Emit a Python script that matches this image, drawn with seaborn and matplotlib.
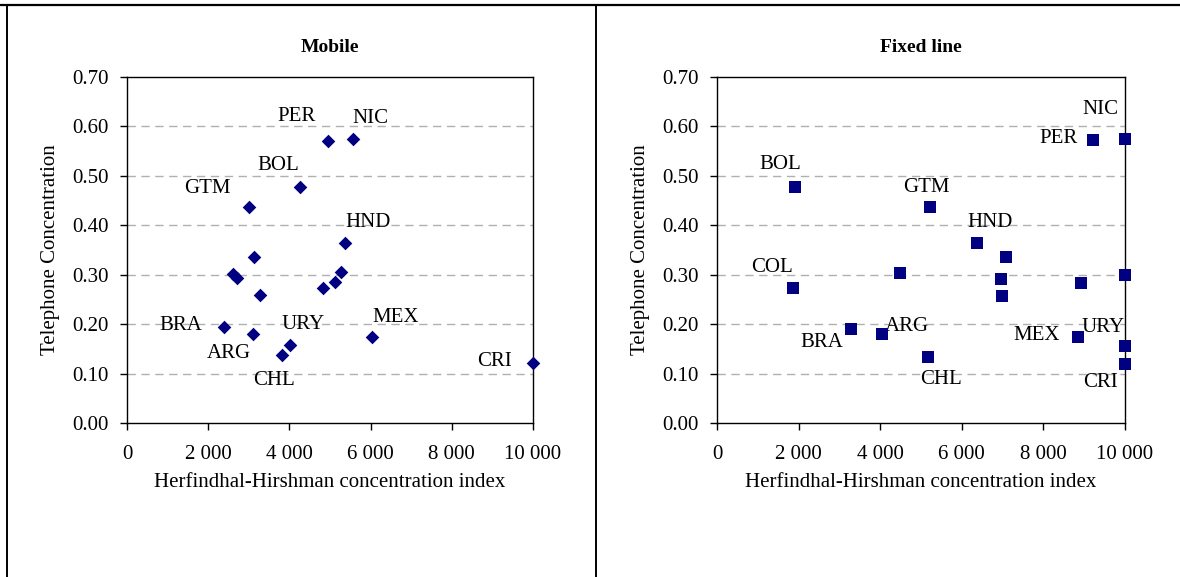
import matplotlib
matplotlib.use("Agg")
import matplotlib.pyplot as plt
import seaborn as sns
import pandas as pd
from matplotlib.lines import Line2D
from matplotlib.ticker import FuncFormatter

# ---------------- data ----------------
mobile_hhi = [4958, 5574, 4269, 3012, 5369, 3136, 2619, 2717, 3276, 4828, 5123, 5263,
              2381, 3104, 4015, 3810, 6026, 10000]
mobile_conc = [0.571, 0.574, 0.477, 0.438, 0.365, 0.336, 0.301, 0.293, 0.258, 0.274, 0.285, 0.305,
               0.194, 0.181, 0.158, 0.137, 0.175, 0.122]
mobile_labels = ["PER", "NIC", "BOL", "GTM", "HND", "", "", "", "", "", "", "",
                 "BRA", "ARG", "URY", "CHL", "MEX", "CRI"]

fixed_hhi = [9216, 10000, 1912, 5221, 6365, 7091, 1870, 4493, 6961, 6985, 8922, 10000,
             3284, 4044, 5164, 8856, 10000, 10000]
fixed_conc = [0.573, 0.575, 0.478, 0.438, 0.365, 0.335, 0.273, 0.303, 0.292, 0.256, 0.283, 0.299,
              0.191, 0.180, 0.134, 0.173, 0.156, 0.119]
fixed_labels = ["PER", "NIC", "BOL", "GTM", "HND", "", "COL", "", "", "", "", "",
                "BRA", "ARG", "CHL", "MEX", "URY", "CRI"]

titles = ["Mobile", "Fixed line"]
x_label = "Herfindhal-Hirshman concentration index"
y_label = "Telephone Concentration"
x_ticks = [0, 2000, 4000, 6000, 8000, 10000]
y_ticks = [0.0, 0.1, 0.2, 0.3, 0.4, 0.5, 0.6, 0.7]

# label offsets (pixels) relative to points
mobile_offsets = {"PER": (-32, 24), "NIC": (17, 21), "BOL": (-22, 22), "GTM": (-42, 18),
                  "HND": (23, 20), "BRA": (-43, 2), "ARG": (-24, -20), "URY": (13, 20),
                  "CHL": (-8, -25), "MEX": (24, 19), "CRI": (-38, 1)}
fixed_offsets = {"PER": (-35, 1), "NIC": (-25, 29), "BOL": (-15, 22), "GTM": (-4, 19),
                 "HND": (13, 20), "COL": (-21, 21), "BRA": (-29, -14), "ARG": (25, 8),
                 "CHL": (13, -23), "MEX": (-42, 2), "URY": (-22, 18), "CRI": (-24, -18)}

sns.set_theme(style="white")
plt.rcParams["font.family"] = ["Liberation Serif", "DejaVu Serif"]

fig = plt.figure(figsize=(11.8, 5.77), dpi=100)
W, H = 1180, 577

def fmt(v, _):
    v = int(round(v))
    return f"{v:,}".replace(",", " ")

navy = "#000080"
FS = 15
panels = [
    (mobile_hhi, mobile_conc, mobile_labels, mobile_offsets, "D", 48, (127, 533)),
    (fixed_hhi, fixed_conc, fixed_labels, fixed_offsets, "s", 70, (717, 1125)),
]
for i, (xs, ys, labs, offs, mk, ms, (xl, xr)) in enumerate(panels):
    ax = fig.add_axes([xl / W, (H - 423) / H, (xr - xl) / W, 346 / H])
    df = pd.DataFrame({"x": xs, "y": ys, "lab": labs})
    sns.scatterplot(data=df, x="x", y="y", marker=mk, s=ms, color=navy,
                    edgecolor=navy, linewidth=0, ax=ax, clip_on=False, zorder=5)
    ax.set_xlim(0, 10000)
    ax.set_ylim(0, 0.7)
    ax.set_xticks(x_ticks)
    ax.set_yticks(y_ticks)
    ax.xaxis.set_major_formatter(FuncFormatter(fmt))
    ax.yaxis.set_major_formatter(FuncFormatter(lambda v, _: f"{v:.2f}"))
    ax.tick_params(axis="both", which="major", direction="out", length=5, width=1,
                   color="black", labelsize=FS, labelcolor="black", bottom=True, left=True)
    ax.tick_params(axis="x", pad=11)
    ax.tick_params(axis="y", pad=8)
    for yv in y_ticks[1:-1]:
        ax.axhline(yv, color="#b0b0b0", lw=1, ls=(0, (6, 4)), zorder=1)
    for sp in ax.spines.values():
        sp.set_visible(True)
        sp.set_color("black")
        sp.set_linewidth(1)
    ax.set_xlabel(x_label, fontsize=FS, labelpad=6, color="black")
    ax.set_ylabel(y_label, fontsize=FS, labelpad=9, color="black")
    ax.set_title(titles[i], fontsize=14, fontweight="bold", pad=18, color="black")
    for xv, yv, lb in zip(xs, ys, labs):
        if lb:
            dx, dy = offs[lb]
            ax.annotate(lb, (xv, yv), xytext=(dx, dy), textcoords="offset pixels",
                        ha="center", va="center", fontsize=FS, color="black",
                        annotation_clip=False)

# outer frame lines
fig.add_artist(Line2D([0, 1], [1 - 5 / H, 1 - 5 / H], transform=fig.transFigure,
                      color="black", lw=1.6))
fig.add_artist(Line2D([7 / W, 7 / W], [0, 1 - 5 / H], transform=fig.transFigure,
                      color="black", lw=1.4))
fig.add_artist(Line2D([596 / W, 596 / W], [0, 1 - 5 / H], transform=fig.transFigure,
                      color="black", lw=1.4))

fig.savefig("out.png", dpi=100)
